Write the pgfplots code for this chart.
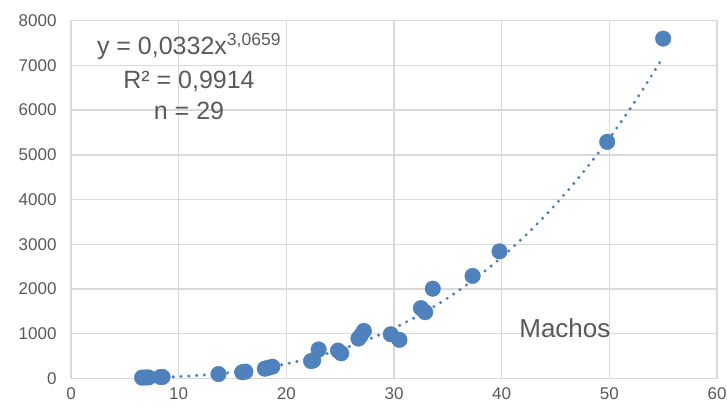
\documentclass[border=0pt]{standalone}
\usepackage{fontspec}
\setmainfont{Liberation Sans}
\usepackage{pgfplots}
\pgfplotsset{compat=1.18}
\definecolor{pt}{HTML}{4F81BD}
\definecolor{gridc}{HTML}{D9D9D9}
\definecolor{txt}{HTML}{595959}
\begin{document}
\begin{tikzpicture}
\useasboundingbox (-71pt,-31.7pt) rectangle (656pt,378.3pt);
\begin{axis}[
  scale only axis,
  width=646pt, height=357.6pt,
  xmin=0, xmax=60, ymin=0, ymax=8000,
  xtick={0,10,...,60},
  ytick={0,1000,...,8000},
  grid=major,
  major grid style={gridc, line width=1.4pt},
  axis line style={gridc, line width=1.4pt},
  major tick length=0pt,
  tick label style={font=\fontsize{17}{20}\selectfont, text=txt},
  /pgf/number format/assume math mode=true,
  /pgf/number format/1000 sep={},
  yticklabel style={xshift=-11pt},
  xticklabel style={yshift=-6pt},
  clip=false,
]
% trend line: y = 0.0332 x^3.0659
\addplot[pt, line width=3.4pt, line cap=round, dash pattern=on 0pt off 7.8pt, smooth, no markers] coordinates {
 (6.6,10.8) (8,19.5) (10,38.7) (12,67.6) (15,134) (17.5,214.9) (20,324) (22.5,464.6)
 (25,642) (27.5,859) (30,1122) (32.5,1433) (35,1799) (37.5,2222) (40,2709)
 (42.5,3263) (45,3887) (47.5,4590) (50,5369) (52.5,6235) (55,7190)
};
\addplot[only marks, mark=*, mark size=7.8pt, mark options={fill=pt, draw=pt}] coordinates {
 (6.6,15) (6.9,18) (7.2,20) (8.3,28) (8.5,30) (13.7,95)
 (15.9,135) (16.0,140) (16.2,150)
 (18.0,215) (18.3,235) (18.7,260)
 (22.3,385) (22.5,400) (23.0,645)
 (24.8,620) (25.1,560)
 (26.7,890) (26.9,950) (27.2,1060)
 (29.7,985) (30.5,860)
 (32.5,1570) (32.9,1480) (33.6,2005)
 (37.3,2290) (39.8,2840) (49.8,5290) (55.0,7600)
};
\node[anchor=base, text=txt, font=\fontsize{25}{30}\selectfont] at (axis cs:10.96,7233) {y = 0,0332x\textsuperscript{3,0659}};
\node[anchor=base, text=txt, font=\fontsize{25}{30}\selectfont] at (axis cs:10.96,6488) {R² = 0,9914};
\node[anchor=base, text=txt, font=\fontsize{25}{30}\selectfont] at (axis cs:10.96,5794) {n = 29};
\node[anchor=base, text=txt, font=\fontsize{26}{30}\selectfont] at (axis cs:45.87,917) {Machos};
\end{axis}
\end{tikzpicture}
\end{document}
